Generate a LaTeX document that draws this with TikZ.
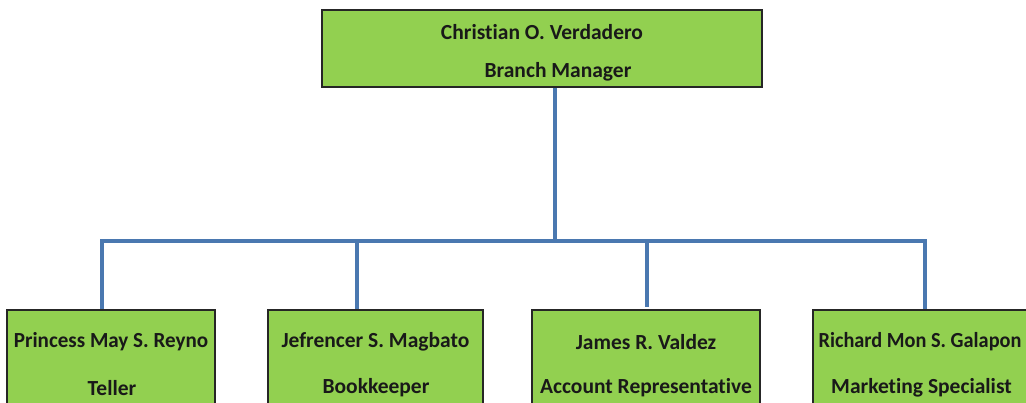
\documentclass[tikz,border=0pt]{standalone}
\usepackage{fontspec}
\setmainfont{Carlito}[Ligatures=NoCommon]
\definecolor{boxgreen}{HTML}{92D050}
\definecolor{linkblue}{HTML}{4A78B0}
\begin{document}
\begin{tikzpicture}[x=1pt,y=-1pt,
  orgbox/.style={draw=black!85, line width=1.6pt, fill=boxgreen, inner sep=0pt, rectangle},
  orgtext/.style={font=\fontsize{21.5}{25}\selectfont\bfseries, text=black!90, inner sep=0pt},
  link/.style={draw=linkblue, line width=4.5pt}]
  \useasboundingbox (0,0) rectangle (1026,403);
  \clip (0,0) rectangle (1026,403);

  % branch manager
  \node[orgbox, minimum width=440pt, minimum height=77pt] (mgr) at (542,48.5) {};
  \node[orgtext] (mgrname) at (542,32) {Christian O. Verdadero};
  \node[orgtext] (mgrrole) at (558,72) {Branch Manager};

  % staff
  \node[orgbox, minimum width=208pt, minimum height=120pt] (s1) at (111,370) {};
  \node[orgbox, minimum width=215pt, minimum height=120pt] (s2) at (375.5,370) {};
  \node[orgbox, minimum width=228pt, minimum height=120pt] (s3) at (646,370) {};
  \node[orgbox, minimum width=215pt, minimum height=120pt] (s4) at (920.5,370) {};

  \node[orgtext] (n1) at (111,342) {\scalebox{0.98}[1]{Princess May S. Reyno}};
  \node[orgtext] (r1) at (112,388) {Teller};
  \node[orgtext] (n2) at (375.5,342) {Jefrencer S. Magbato};
  \node[orgtext] (r2) at (376,388) {Bookkeeper};
  \node[orgtext] (n3) at (646,342) {James R. Valdez};
  \node[orgtext] (r3) at (646,388) {Account Representative};
  \node[orgtext] (n4) at (920,342) {\scalebox{0.945}[1]{Richard Mon S. Galapon}};
  \node[orgtext] (r4) at (921.5,388) {Marketing Specialist};

  % connectors
  \coordinate (hub) at (555,241);
  \coordinate (end3) at (647,307);
  \draw[link] (mgr.south -| hub) -- (hub);
  \draw[link] (hub) -| ([xshift=-9pt]s1.north);
  \draw[link] (hub) -| ([xshift=-18.5pt]s2.north);
  \draw[link] (hub) -| (end3);
  \draw[link] (hub) -| ([xshift=4.5pt]s4.north);
\end{tikzpicture}
\end{document}
